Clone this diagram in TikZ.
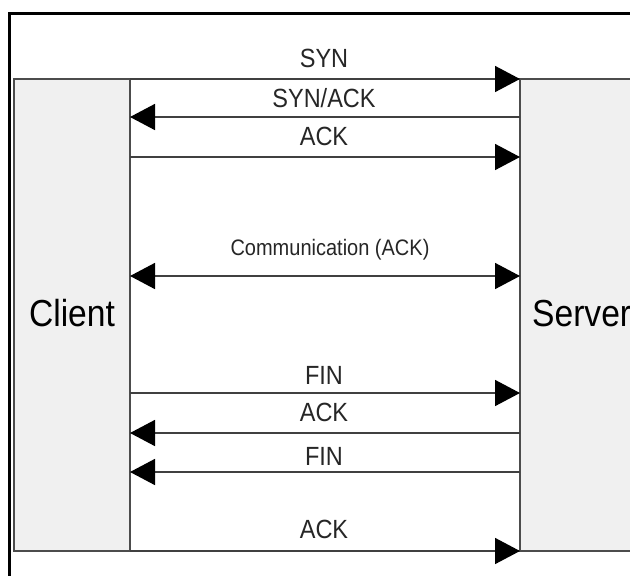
\documentclass[tikz,border=0pt]{standalone}
\usepackage{fontspec}
\setmainfont{Liberation Sans}
\usetikzlibrary{arrows.meta}
\tikzset{
  frame/.style={draw=black, line width=3.5pt},
  band/.style={draw=black!70, line width=1.5pt, fill=white},
  hostbox/.style={draw=black!70, line width=1.5pt, fill=black!6},
  tipstyle/.tip={Triangle[length=25pt,width=26pt,color=black]},
  msg/.style={draw=black!75, line width=1.6pt, -tipstyle},
  msgboth/.style={draw=black!75, line width=1.6pt, tipstyle-tipstyle},
  lbl/.style={font=\fontsize{23.5}{24}\selectfont, text=black!85, inner sep=0pt, anchor=base},
  smalllbl/.style={font=\fontsize{20}{21}\selectfont, text=black!85, inner sep=0pt, anchor=base},
  hostlbl/.style={font=\fontsize{33.6}{34}\selectfont, text=black, inner sep=0pt, anchor=base}
}
\newcommand{\tallish}[1]{\scalebox{1}[1.12]{#1}}
\begin{document}
\begin{tikzpicture}[x=1pt,y=-1pt]
\useasboundingbox (0,0) rectangle (630,576);
\clip (0,0) rectangle (630,576);
\fill[white] (0,0) rectangle (630,576);
\draw[frame] (9.5,13.5) rectangle (680,620);
% band and host boxes
\draw[band] (14,79) rectangle (700,551);
\draw[hostbox] (14,79) rectangle (130,551);
\draw[hostbox] (520,79) rectangle (700,551);
\node[hostlbl] (client) at (72,326) {\tallish{Client}};
\node[hostlbl, anchor=base west] (server) at (532,326) {\tallish{Server}};
% endpoints
\foreach \n/\y in {1/79,2/117,3/157,4/276,5/393,6/433,7/472,8/551}{
  \coordinate (c\n) at (130,\y);
  \coordinate (s\n) at (520,\y);
}
% messages
\draw[msg] (c1) -- (s1);
\draw[msg] (s2) -- (c2);
\draw[msg] (c3) -- (s3);
\draw[msgboth] (c4) -- (s4);
\draw[msg] (c5) -- (s5);
\draw[msg] (s6) -- (c6);
\draw[msg] (s7) -- (c7);
\draw[msg] (c8) -- (s8);
% labels
\node[lbl] (l1) at (324,67) {\tallish{SYN}};
\node[lbl] (l2) at (324,107) {\tallish{SYN/ACK}};
\node[lbl] (l3) at (324,145) {\tallish{ACK}};
\node[smalllbl] (l4) at (330,255) {\tallish{Communication (ACK)}};
\node[lbl] (l5) at (324,384) {\tallish{FIN}};
\node[lbl] (l6) at (324,421) {\tallish{ACK}};
\node[lbl] (l7) at (324,465) {\tallish{FIN}};
\node[lbl] (l8) at (324,538) {\tallish{ACK}};
\end{tikzpicture}
\end{document}
